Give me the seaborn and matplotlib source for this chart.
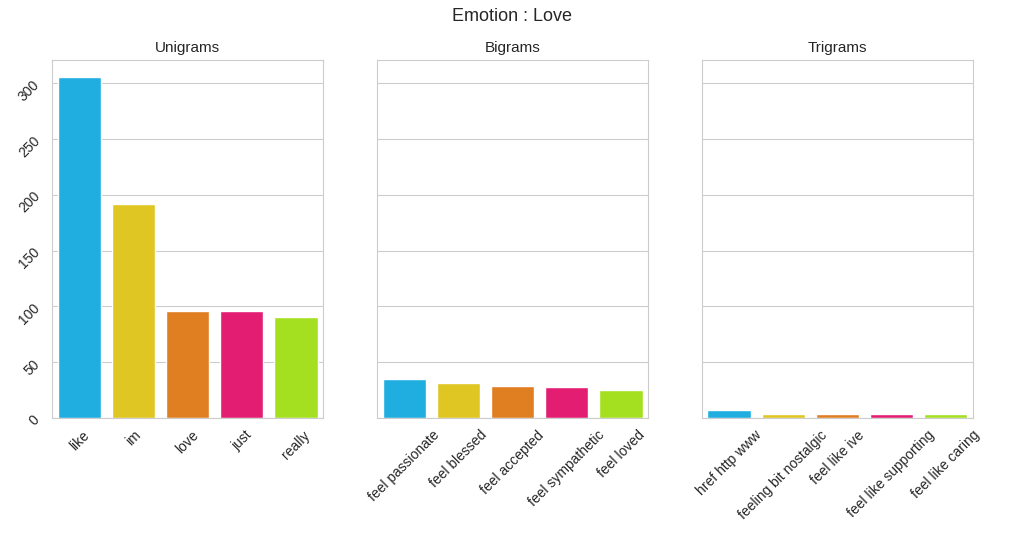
import matplotlib
matplotlib.use("Agg")
import matplotlib.pyplot as plt
import seaborn as sns

unigrams = ["like", "im", "love", "just", "really"]
unigram_counts = [305, 192, 96, 96, 91]

bigrams = ["feel passionate", "feel blessed", "feel accepted", "feel sympathetic", "feel loved"]
bigram_counts = [35, 32, 29, 28, 25]

trigrams = ["href http www", "feeling bit nostalgic", "feel like ive", "feel like supporting", "feel like caring"]
trigram_counts = [7, 4, 4, 4, 4]

colors = ["#20aee0", "#dfc622", "#e07e22", "#e31e72", "#a4e020"]

sns.set_style("whitegrid")
plt.rcParams["font.family"] = ["Liberation Sans", "DejaVu Sans"]

fig, axes = plt.subplots(1, 3, figsize=(10.23, 5.37), dpi=100, sharey=True)
fig.subplots_adjust(left=0.051, right=0.951, top=0.888, bottom=0.221, wspace=0.2)

panels = [("Unigrams", unigrams, unigram_counts),
          ("Bigrams", bigrams, bigram_counts),
          ("Trigrams", trigrams, trigram_counts)]

for ax, (title, words, counts) in zip(axes, panels):
    sns.barplot(x=words, y=counts, hue=words, palette=colors, saturation=1,
                legend=False, ax=ax)
    ax.set_title(title, fontsize=11)
    ax.tick_params(axis="x", labelrotation=45, labelsize=10)
    ax.tick_params(axis="y", labelrotation=45, labelsize=10)
    for lab in ax.get_xticklabels():
        lab.set_ha("center")

fig.suptitle("Emotion : Love", fontsize=13, y=0.985)
fig.savefig("out.png", dpi=100)
